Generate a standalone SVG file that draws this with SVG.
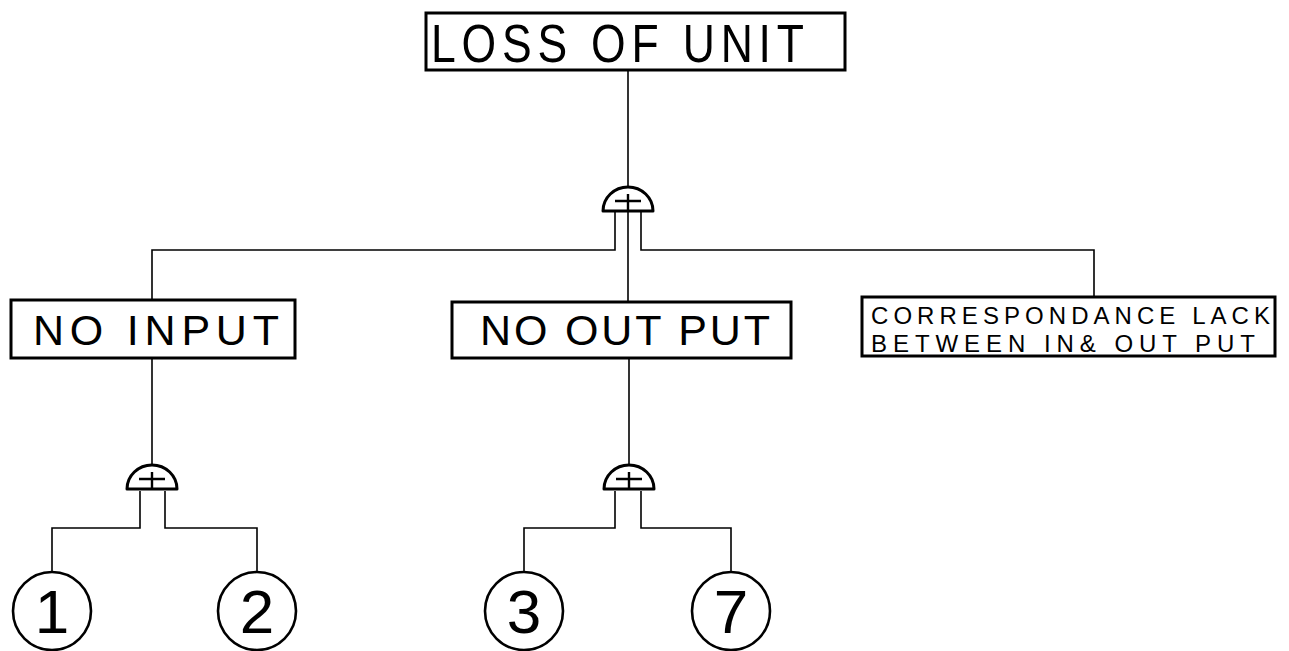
<svg xmlns="http://www.w3.org/2000/svg" width="1289" height="651" viewBox="0 0 1289 651">
  <style>
    .box { fill: #fff; stroke: #000; stroke-width: 3; }
    .wire { fill: none; stroke: #000; stroke-width: 1.6; }
    .gate { fill: #fff; stroke: #000; stroke-width: 3; stroke-linejoin: round; }
    .sign { fill: none; stroke: #000; stroke-width: 2.4; }
    .lbl { font-family: "Liberation Sans", Arial, sans-serif; fill: #000; }
    .evt { fill: #fff; stroke: #000; stroke-width: 2.6; }
    .num { font-family: "Liberation Sans", Arial, sans-serif; fill: #000; font-size: 62px; text-anchor: middle; }
  </style>
  <defs>
    <!-- OR gate: half dome with a plus sign, origin at the apex -->
    <g id="orGate">
      <path class="gate" d="M-25,24 A25,24 0 0 1 25,24 Z"/>
      <path class="sign" d="M-13,14 H13 M0,7 V23"/>
    </g>
  </defs>
  <rect width="1289" height="651" fill="#fff"/>

  <g id="connectors">
    <!-- top event to first gate, gate to its three inputs -->
    <path class="wire" d="M628,70 V187"/>
    <path class="wire" d="M615,211 V250 H152 V300"/>
    <path class="wire" d="M641,211 V250 H1094 V297"/>
    <path class="wire" d="M628,211 V302"/>
    <!-- NO INPUT branch -->
    <path class="wire" d="M152,358 V465"/>
    <path class="wire" d="M140,491 V528 H52 V572"/>
    <path class="wire" d="M165,491 V528 H257 V572"/>
    <!-- NO OUT PUT branch -->
    <path class="wire" d="M629,358 V465"/>
    <path class="wire" d="M615,491 V528 H524 V572"/>
    <path class="wire" d="M641,491 V528 H731 V572"/>
  </g>

  <g id="top-event">
    <rect class="box" x="426" y="13" width="419" height="57"/>
    <!-- condensed lettering, widely spaced -->
    <text class="lbl" transform="translate(431,62) scale(0.84,1)" font-size="53" textLength="444" lengthAdjust="spacing">LOSS  OF  UNIT</text>
  </g>

  <g id="gate-top"><use href="#orGate" x="628" y="187"/></g>

  <g id="no-input">
    <rect class="box" x="11" y="300" width="284" height="58"/>
    <text class="lbl" x="33" y="345" font-size="43" textLength="246" lengthAdjust="spacing">NO INPUT</text>
  </g>

  <g id="no-output">
    <rect class="box" x="452" y="302" width="339" height="56"/>
    <text class="lbl" x="480" y="345" font-size="43" textLength="290" lengthAdjust="spacing">NO OUT PUT</text>
  </g>

  <g id="correspondance-lack">
    <rect class="box" x="862" y="297" width="413" height="59"/>
    <text class="lbl" x="871" y="324" font-size="24" textLength="399" lengthAdjust="spacing">CORRESPONDANCE LACK</text>
    <text class="lbl" x="871" y="352" font-size="24" textLength="384" lengthAdjust="spacing">BETWEEN IN&amp; OUT PUT</text>
  </g>

  <g id="gate-input"><use href="#orGate" x="152" y="465"/></g>
  <g id="gate-output"><use href="#orGate" x="629" y="465"/></g>

  <g id="event-1">
    <circle class="evt" cx="52" cy="611" r="39"/>
    <text class="num" x="52" y="633">1</text>
  </g>
  <g id="event-2">
    <circle class="evt" cx="257" cy="611" r="39"/>
    <text class="num" x="257" y="633">2</text>
  </g>
  <g id="event-3">
    <circle class="evt" cx="524" cy="611" r="39"/>
    <text class="num" x="524" y="633">3</text>
  </g>
  <g id="event-7">
    <circle class="evt" cx="731" cy="611" r="39"/>
    <text class="num" x="731" y="633">7</text>
  </g>
</svg>
